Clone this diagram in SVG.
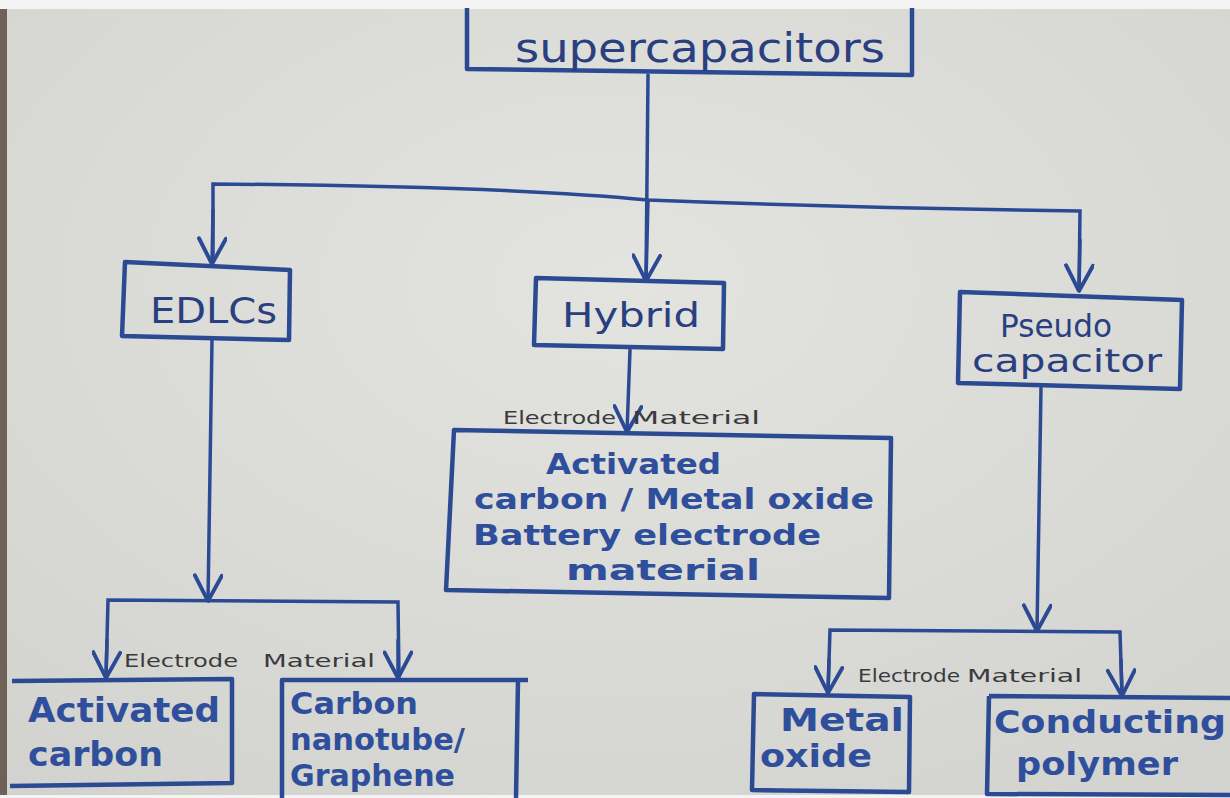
<svg xmlns="http://www.w3.org/2000/svg" width="1230" height="798" viewBox="0 0 1230 798">
  <defs>
    <radialGradient id="paper" cx="0.5" cy="0.35" r="0.8">
      <stop offset="0" stop-color="#e3e3df"/>
      <stop offset="1" stop-color="#d2d2ce"/>
    </radialGradient>
    <marker id="vee" viewBox="0 0 20 20" refX="19" refY="10" markerWidth="30" markerHeight="30" markerUnits="userSpaceOnUse" orient="auto">
      <path d="M2,1 L19,10 L2,19" fill="none" stroke="#2c4a94" stroke-width="2.6" stroke-linecap="round" stroke-linejoin="round"/>
    </marker>
    <style>
      .box { fill: none; stroke: #2c4a94; stroke-width: 4.5; stroke-linejoin: round; }
      .wire { fill: none; stroke: #2c4a94; stroke-width: 3.5; stroke-linecap: round; }
      .arrow { fill: none; stroke: #2c4a94; stroke-width: 3.5; stroke-linecap: round; marker-end: url(#vee); }
      .ink { font-family: "DejaVu Sans", "Liberation Sans", sans-serif; font-weight: bold; fill: #2f4f9c; }
      .thin { font-weight: normal; fill: #2a3f80; }
      .note { font-family: "DejaVu Sans", "Liberation Sans", sans-serif; fill: #3a3a3e; font-size: 17px; }
    </style>
  </defs>

  <!-- paper sheet -->
  <rect x="0" y="0" width="1230" height="798" fill="#f4f4f4"/>
  <rect x="6" y="9" width="1224" height="786" fill="url(#paper)"/>
  <rect x="0" y="9" width="7" height="786" fill="#6d6258"/>

  <!-- connectors -->
  <g id="connectors">
    <path class="wire" d="M648,75 L646,280"/>
    <path class="arrow" d="M648,200 L646,281"/>
    <path class="wire" d="M213,262 L213,184 Q500,186 648,200 Q850,208 1080,211 L1079,290"/>
    <path class="arrow" d="M213,210 L212,264"/>
    <path class="arrow" d="M1080,240 L1079,291"/>
    <path class="arrow" d="M630,350 L627,432"/>
    <path class="arrow" d="M212,340 L208,601"/>
    <path class="wire" d="M106,677 L108,600 L398,602 L399,677"/>
    <path class="arrow" d="M107,640 L106,678"/>
    <path class="arrow" d="M398,640 L398,678"/>
    <path class="arrow" d="M1041,388 L1037,631"/>
    <path class="wire" d="M828,692 L830,630 L1120,632 L1122,695"/>
    <path class="arrow" d="M829,660 L828,693"/>
    <path class="arrow" d="M1121,660 L1122,696"/>
  </g>
  <g id="edge-labels">
    <text class="note" x="503" y="424" textLength="113" lengthAdjust="spacingAndGlyphs">Electrode</text>
    <text class="note" x="632" y="424" textLength="128" lengthAdjust="spacingAndGlyphs">Material</text>
    <text class="note" x="124" y="667" textLength="114" lengthAdjust="spacingAndGlyphs">Electrode</text>
    <text class="note" x="263" y="667" textLength="112" lengthAdjust="spacingAndGlyphs">Material</text>
    <text class="note" x="858" y="682" textLength="102" lengthAdjust="spacingAndGlyphs">Electrode</text>
    <text class="note" x="967" y="682" textLength="115" lengthAdjust="spacingAndGlyphs">Material</text>
  </g>

  <!-- nodes -->
  <g id="node-supercapacitors">
    <path class="box" d="M467,8 L467,69 L912,75 L912,8"/>
    <text class="ink thin" x="515" y="62" font-size="40" textLength="370" lengthAdjust="spacingAndGlyphs">supercapacitors</text>
  </g>
  <g id="node-edlcs">
    <path class="box" d="M125,262 L290,270 L289,340 L122,336 Z"/>
    <text class="ink thin" x="150" y="323" font-size="36" textLength="127" lengthAdjust="spacingAndGlyphs">EDLCs</text>
  </g>
  <g id="node-hybrid">
    <path class="box" d="M536,278 L724,283 L723,349 L534,345 Z"/>
    <text class="ink thin" x="562" y="327" font-size="33" textLength="138" lengthAdjust="spacingAndGlyphs">Hybrid</text>
  </g>
  <g id="node-pseudo">
    <path class="box" d="M960,292 L1182,300 L1180,389 L958,383 Z"/>
    <text class="ink thin" x="1000" y="337" font-size="32" textLength="112" lengthAdjust="spacingAndGlyphs">Pseudo</text>
    <text class="ink thin" x="972" y="372" font-size="32" textLength="190" lengthAdjust="spacingAndGlyphs">capacitor</text>
  </g>
  <g id="node-hybrid-material">
    <path class="box" d="M454,430 L891,438 L889,598 L446,590 Z"/>
    <text class="ink" x="546" y="474" font-size="29" textLength="175" lengthAdjust="spacingAndGlyphs">Activated</text>
    <text class="ink" x="474" y="509" font-size="29" textLength="400" lengthAdjust="spacingAndGlyphs">carbon / Metal oxide</text>
    <text class="ink" x="473" y="545" font-size="29" textLength="348" lengthAdjust="spacingAndGlyphs">Battery electrode</text>
    <text class="ink" x="566" y="580" font-size="29" textLength="194" lengthAdjust="spacingAndGlyphs">material</text>
  </g>
  <g id="node-activated-carbon">
    <path class="box" d="M12,681 L232,679 L232,783 L10,786"/>
    <text class="ink" x="28" y="722" font-size="34" textLength="192" lengthAdjust="spacingAndGlyphs">Activated</text>
    <text class="ink" x="28" y="766" font-size="34" textLength="135" lengthAdjust="spacingAndGlyphs">carbon</text>
  </g>
  <g id="node-cnt-graphene">
    <path class="box" d="M282,798 L282,680 L528,680 M518,680 L516,798"/>
    <text class="ink" x="290" y="714" font-size="30" textLength="128" lengthAdjust="spacingAndGlyphs">Carbon</text>
    <text class="ink" x="290" y="750" font-size="30" textLength="175" lengthAdjust="spacingAndGlyphs">nanotube/</text>
    <text class="ink" x="290" y="786" font-size="30" textLength="165" lengthAdjust="spacingAndGlyphs">Graphene</text>
  </g>
  <g id="node-metal-oxide">
    <path class="box" d="M754,694 L910,697 L909,792 L752,790 Z"/>
    <text class="ink" x="780" y="731" font-size="32" textLength="124" lengthAdjust="spacingAndGlyphs">Metal</text>
    <text class="ink" x="760" y="767" font-size="32" textLength="112" lengthAdjust="spacingAndGlyphs">oxide</text>
  </g>
  <g id="node-conducting-polymer">
    <path class="box" d="M989,696 L1230,698 M989,696 L987,794 L1230,795"/>
    <text class="ink" x="994" y="733" font-size="32" textLength="232" lengthAdjust="spacingAndGlyphs">Conducting</text>
    <text class="ink" x="1016" y="775" font-size="32" textLength="162" lengthAdjust="spacingAndGlyphs">polymer</text>
  </g>
</svg>
